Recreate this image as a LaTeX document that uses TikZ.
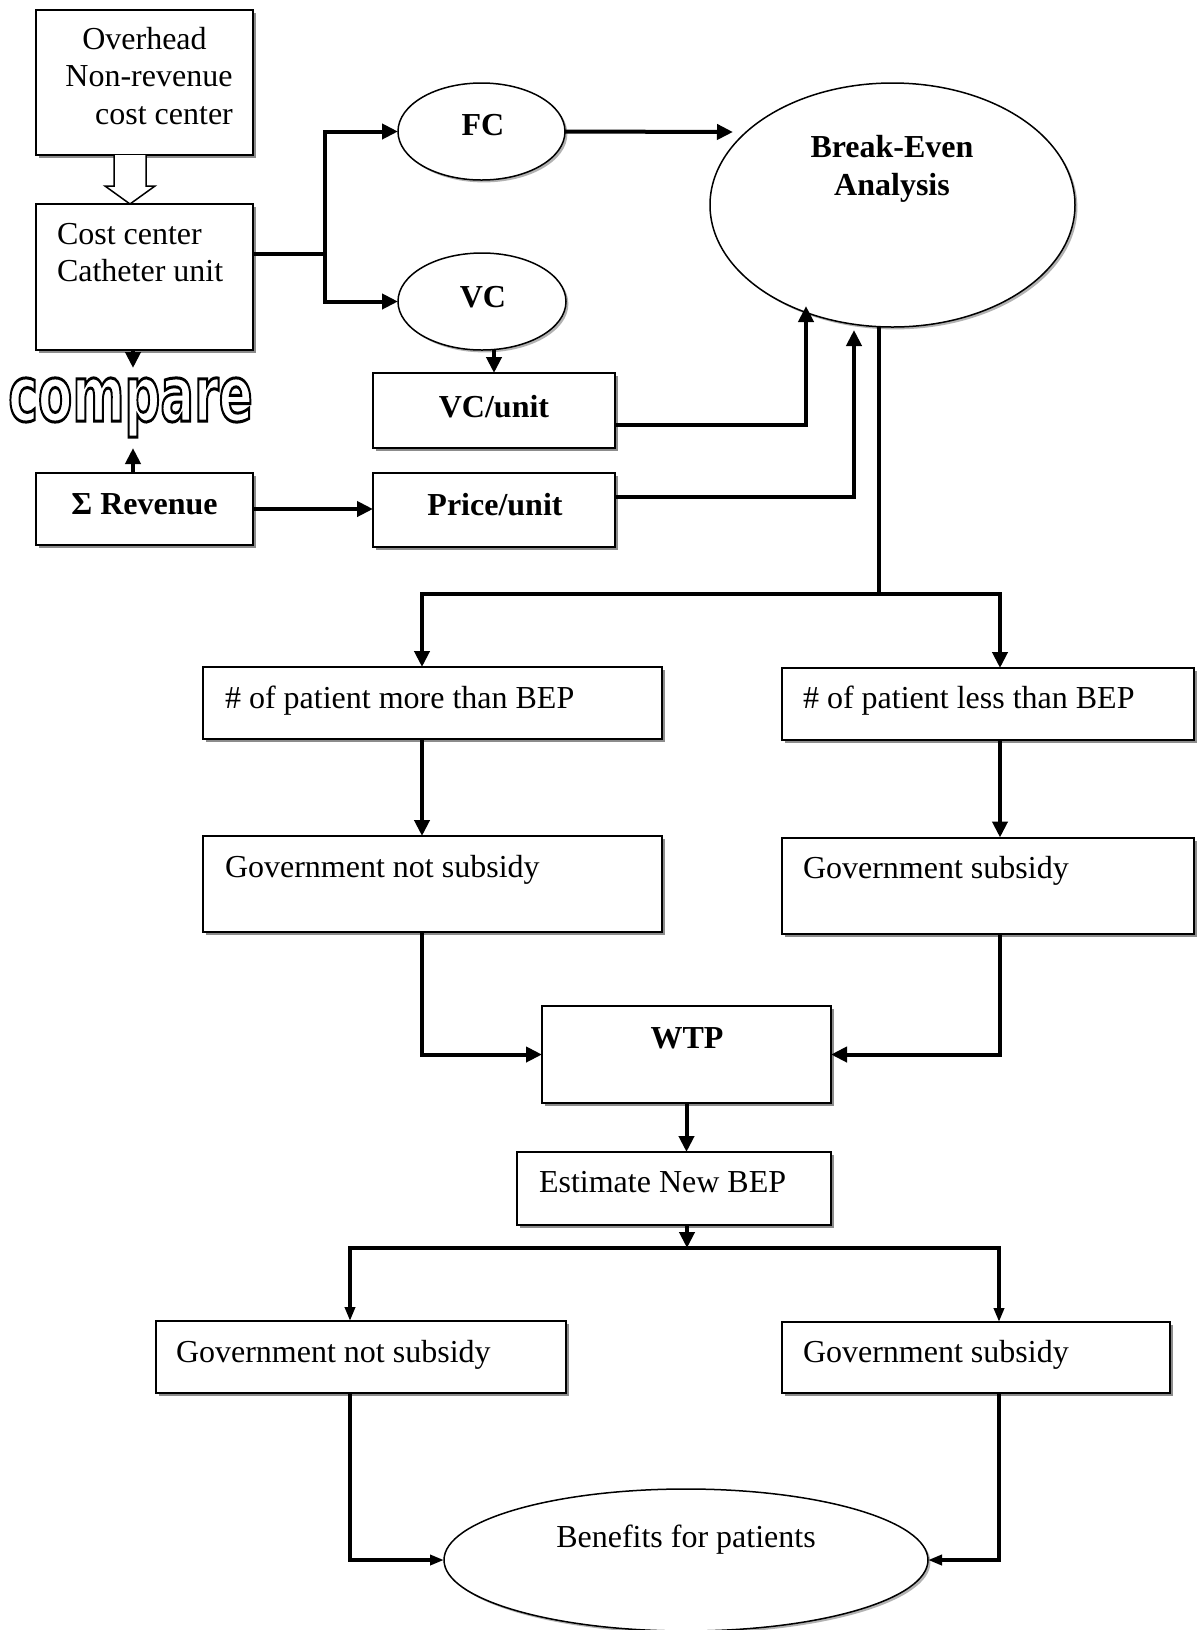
\documentclass[tikz,border=0pt]{standalone}
\usepackage{fontspec}
\setmainfont{Liberation Serif}
\newfontfamily\cmpfont{DejaVu Sans}
\usetikzlibrary{shapes.geometric,arrows.meta,shadows,calc}
\begin{document}
\begin{tikzpicture}[x=0.5pt,y=-0.5pt,
  every node/.style={inner sep=0pt,outer sep=0pt},
  rm/.style={font=\fontsize{16}{18.5}\selectfont},
  bf/.style={font=\fontsize{16}{19}\selectfont\bfseries},
  shad/.style={drop shadow={shadow xshift=1.6pt,shadow yshift=-1.6pt,fill=black!45,opacity=1}},
  eshad/.style={drop shadow={shadow xshift=1.2pt,shadow yshift=-1.2pt,fill=black!30,opacity=1}},
  box/.style={draw,line width=1pt,fill=white,rectangle,shad},
  ell/.style={draw,ellipse,line width=0.75pt,fill=white,eshad},
  conn/.style={line width=2pt},
  arr/.style={line width=2pt,-{Triangle[length=8pt,width=7.5pt]}},
  arrs/.style={line width=1.8pt,-{Triangle[length=7pt,width=5pt]}},
]
\path[use as bounding box,fill=white] (0,0) rectangle (1199,1630);

% boxes and ellipses
\node[box,minimum width=108.5pt,minimum height=72.5pt] (ov) at (144.5,82.5) {};
\node[box,minimum width=108.5pt,minimum height=73pt] (cc) at (144.5,277) {};
\node[box,minimum width=108.5pt,minimum height=36pt] (rev) at (144.5,509) {};
\node[ell,minimum width=83.5pt,minimum height=48.5pt] (fc) at (481.5,131.5) {};
\node[ell,minimum width=84pt,minimum height=48.5pt] (vc) at (482,301.5) {};
\node[box,minimum width=121pt,minimum height=37.5pt] (vcu) at (494,410.5) {};
\node[box,minimum width=121pt,minimum height=37pt] (pu) at (494,510) {};
\node[ell,minimum width=182.5pt,minimum height=122pt] (be) at (892.5,205) {};
\node[box,minimum width=229.5pt,minimum height=36pt] (more) at (432.5,703) {};
\node[box,minimum width=206pt,minimum height=36pt] (less) at (988,704) {};
\node[box,minimum width=229.5pt,minimum height=48pt] (gns) at (432.5,884) {};
\node[box,minimum width=206pt,minimum height=48pt] (gs) at (988,885.5) {};
\node[box,minimum width=144.5pt,minimum height=48.5pt] (wtp) at (686.5,1054.5) {};
\node[box,minimum width=157pt,minimum height=36.5pt] (est) at (674,1188.5) {};
\node[box,minimum width=205pt,minimum height=36pt] (gns2) at (361,1357) {};
\node[box,minimum width=194pt,minimum height=35.5pt] (gs2) at (976,1357.5) {};
\node[ell,minimum width=242pt,minimum height=71pt] (ben) at (686,1560) {};

% texts
\node[align=center,anchor=north,font=\fontsize{16}{18.75}\selectfont] (ovt) at (144.5,27)
  {Overhead\\\hspace*{4.5pt}Non-revenue\\\hspace*{19.5pt}cost center};
\node[align=left,anchor=north west,font=\fontsize{16}{18.5}\selectfont] (cct) at (57,223)
  {Cost center\\Catheter unit};
\node[anchor=base] (cmp) at (130.5,421)
  {\scalebox{0.65}[1]{\cmpfont\bfseries\fontsize{38.5}{40}\selectfont\special{pdf:literal direct 2 Tr 1.5 w 1 g 0 G}compare\special{pdf:literal direct 0 Tr 0 g 0 G}}};
\node[bf,anchor=base] (revt) at (144.5,514) {Σ Revenue};
\node[bf,anchor=base] (fct) at (483,135) {FC};
\node[bf,anchor=base] (vct) at (483,307) {VC};
\node[bf,anchor=base] (vcut) at (494,417) {VC/unit};
\node[bf,anchor=base] (put) at (495,515) {Price/unit};
\node[bf,align=center,anchor=north] (bet) at (892,135) {Break-Even\\Analysis};
\node[rm,anchor=base west] (moret) at (225,708) {\# of patient more than BEP};
\node[rm,anchor=base west] (lesst) at (803,708) {\# of patient less than BEP};
\node[rm,anchor=base west] (gnst) at (225,877) {Government not subsidy};
\node[rm,anchor=base west] (gst) at (803,878) {Government subsidy};
\node[bf,anchor=base] (wtpt) at (687,1048) {WTP};
\node[rm,anchor=base west] (estt) at (539,1192) {Estimate New BEP};
\node[rm,anchor=base west] (gns2t) at (176,1362) {Government not subsidy};
\node[rm,anchor=base west] (gs2t) at (803,1362) {Government subsidy};
\node[rm,anchor=base] (bent) at (686,1547) {Benefits for patients};

% coordinates for free ends / junctions
\coordinate (hat) at ($(ov.south)+(-14.5,0)$);
\coordinate (cmpT) at (133,368);
\coordinate (cmpB) at (133,448);
\coordinate (br1) at (325,254);
\coordinate (beIn1) at (733,132);
\coordinate (beIn2) at (806,306);
\coordinate (beIn3) at (854,330);
\coordinate (trunk) at (879,594);
\coordinate (br2) at (687,1248);

% connectors
\draw[line width=0.75pt,fill=white] ($(hat)+(-16,0)$) -- ++(0,31) -- ++(-9,0)
  -- (cc.north -| hat) -- ($(hat)+(25,31)$) -- ++(-9,0) -- ++(0,-31);
\draw[arr] (cc.south -| cmpT) -- (cmpT);
\draw[arr] (rev.north -| cmpB) -- (cmpB);
\draw[conn] (cc.east |- br1) -- (br1);
\draw[arr] (br1) |- (fc.west);
\draw[arr] (br1) |- (vc.west);
\draw[arr] (fc.east) -- (beIn1);
\draw[arr] (vcu.north |- vc.south) -- (vcu.north);
\draw[arr] ($(vcu.east)+(0,14.5)$) -| (beIn2);
\draw[arr] ($(pu.east)+(0,-13)$) -| (beIn3);
\draw[arr] (rev.east) -- (pu.west |- rev.east);
\draw[conn] (be.south -| trunk) -- (trunk);
\draw[arr] (trunk) -| ($(more.north)+(-10.5,0)$);
\draw[arr] (trunk) -| ($(less.north)+(12,0)$);
\draw[arr] ($(more.south)+(-10.5,0)$) -- ($(gns.north)+(-10.5,0)$);
\draw[arr] ($(less.south)+(12,0)$) -- ($(gs.north)+(12,0)$);
\draw[arr] ($(gns.south)+(-10.5,0)$) |- (wtp.west);
\draw[arr] ($(gs.south)+(12,0)$) |- (wtp.east);
\draw[arr] (wtp.south) -- (wtp.south |- est.north);
\draw[arr] (est.south -| br2) -- (br2);
\draw[arrs] (br2) -| ($(gns2.north)+(-11,0)$);
\draw[arrs] (br2) -| ($(gs2.north)+(23,0)$);
\draw[arrs] ($(gns2.south)+(-11,0)$) |- (ben.west);
\draw[arrs] ($(gs2.south)+(23,0)$) |- (ben.east);
\end{tikzpicture}
\end{document}
